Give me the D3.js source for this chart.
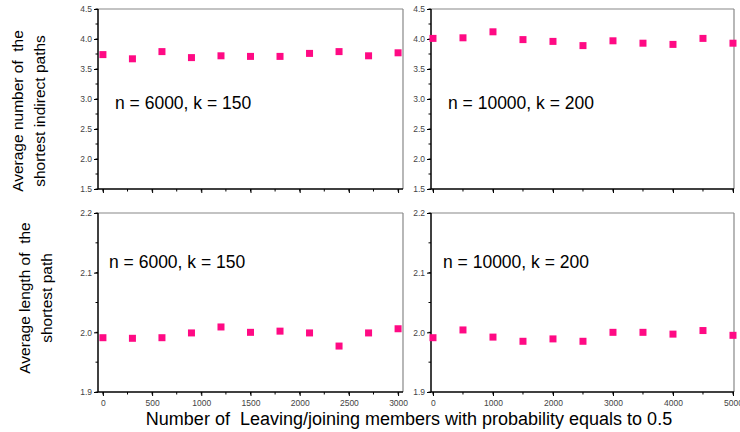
<!DOCTYPE html>
<html>
<head>
<meta charset="utf-8">
<script src="https://cdn.jsdelivr.net/npm/d3@7"></script>
<style>
body { margin: 0; background: white; }
text { white-space: pre; }
</style>
</head>
<body>
<div id="chart"></div>
<script>
// x values (number of leaving/joining members)
var xSmall = [0, 300, 600, 900, 1200, 1500, 1800, 2100, 2400, 2700, 3000];
var xLarge = [0, 500, 1000, 1500, 2000, 2500, 3000, 3500, 4000, 4500, 5000];

// average number of shortest indirect paths
var pathsSmall = [3.74, 3.67, 3.79, 3.69, 3.72, 3.71, 3.71, 3.76, 3.79, 3.72, 3.77];
var pathsLarge = [4.01, 4.02, 4.12, 3.99, 3.96, 3.89, 3.97, 3.93, 3.91, 4.01, 3.93];

// average length of the shortest path
var lengthSmall = [1.991, 1.990, 1.991, 1.999, 2.009, 2.000, 2.002, 1.999, 1.977, 1.999, 2.006];
var lengthLarge = [1.991, 2.004, 1.992, 1.985, 1.989, 1.985, 2.000, 2.000, 1.997, 2.003, 1.995];

var xTicksSmall = [0, 500, 1000, 1500, 2000, 2500, 3000];
var xTicksLarge = [0, 1000, 2000, 3000, 4000, 5000];
var yTicksTop = [1.5, 2.0, 2.5, 3.0, 3.5, 4.0, 4.5];
var yTicksBottom = [1.9, 2.0, 2.1, 2.2];

var width = 740, height = 432;
var pink = "#ff0a84";
var font = "Arial, 'Liberation Sans', sans-serif";

var svg = d3.select("#chart").append("svg")
	.attr("width", width)
	.attr("height", height)
	.style("font-family", font);

var panels = [
	{x0: 98, x1: 403, y0: 9, y1: 189, xd: [-50, 3050], yd: [1.5, 4.5], xs: xSmall, ys: pathsSmall,
	 xt: xTicksSmall, xm: 250, yt: yTicksTop, ym: 0.25, labels: false,
	 note: "n = 6000, k = 150", nx: 115, ny: 109},
	{x0: 431, x1: 734, y0: 9, y1: 189, xd: [-33, 5017], yd: [1.5, 4.5], xs: xLarge, ys: pathsLarge,
	 xt: xTicksLarge, xm: 500, yt: yTicksTop, ym: 0.25, labels: false,
	 note: "n = 10000, k = 200", nx: 448, ny: 109},
	{x0: 98, x1: 403, y0: 213, y1: 392, xd: [-50, 3050], yd: [1.9, 2.2], xs: xSmall, ys: lengthSmall,
	 xt: xTicksSmall, xm: 250, yt: yTicksBottom, ym: 0.05, labels: true,
	 note: "n = 6000, k = 150", nx: 109, ny: 268},
	{x0: 431, x1: 734, y0: 213, y1: 392, xd: [-33, 5017], yd: [1.9, 2.2], xs: xLarge, ys: lengthLarge,
	 xt: xTicksLarge, xm: 500, yt: yTicksBottom, ym: 0.05, labels: true,
	 note: "n = 10000, k = 200", nx: 443, ny: 268}
];

panels.forEach(function(p) {
	var x = d3.scaleLinear().domain(p.xd).range([p.x0, p.x1]);
	var y = d3.scaleLinear().domain(p.yd).range([p.y1, p.y0]);
	var g = svg.append("g");

	// frame: top and right in grey
	g.append("line").attr("x1", p.x0).attr("x2", p.x1).attr("y1", p.y0).attr("y2", p.y0)
		.style("stroke", "#888").style("stroke-width", 1.2);
	g.append("line").attr("x1", p.x1).attr("x2", p.x1).attr("y1", p.y0).attr("y2", p.y1)
		.style("stroke", "#888").style("stroke-width", 1.2);

	// minor ticks
	var xMinor = d3.range(0, p.xd[1], p.xm);
	var yMinor = d3.range(p.yd[0], p.yd[1] + 1e-9, p.ym);

	var xAxis = d3.axisBottom(x).tickValues(p.xt).tickSize(4).tickPadding(4)
		.tickFormat(p.labels ? d3.format("d") : "");
	var ga = g.append("g").attr("transform", "translate(0," + p.y1 + ")").call(xAxis);
	g.append("g").selectAll("line").data(xMinor).enter().append("line")
		.attr("x1", function(d) { return x(d); }).attr("x2", function(d) { return x(d); })
		.attr("y1", p.y1).attr("y2", p.y1 + 2.5)
		.style("stroke", "black").style("stroke-width", 1);

	var yAxis = d3.axisLeft(y).tickValues(p.yt).tickSize(4).tickPadding(2).tickFormat(d3.format(".1f"));
	var gy = g.append("g").attr("transform", "translate(" + p.x0 + ",0)").call(yAxis);
	g.append("g").selectAll("line").data(yMinor).enter().append("line")
		.attr("x1", p.x0 - 2.5).attr("x2", p.x0)
		.attr("y1", function(d) { return y(d); }).attr("y2", function(d) { return y(d); })
		.style("stroke", "black").style("stroke-width", 1);

	[ga, gy].forEach(function(a) {
		a.select(".domain").remove();
		a.selectAll(".tick line").style("stroke", "black");
		a.selectAll("text").style("font-size", "8.5px").style("fill", "#444")
			.style("font-family", font);
	});

	// axis lines
	g.append("line").attr("x1", p.x0).attr("x2", p.x1).attr("y1", p.y1).attr("y2", p.y1)
		.style("stroke", "black").style("stroke-width", 1.5);
	g.append("line").attr("x1", p.x0).attr("x2", p.x0).attr("y1", p.y0).attr("y2", p.y1)
		.style("stroke", "black").style("stroke-width", 1.5);

	// points
	g.selectAll("rect.pt").data(p.xs).enter().append("rect")
		.attr("class", "pt")
		.attr("x", function(d) { return x(d) - 3.5; })
		.attr("y", function(d, i) { return y(p.ys[i]) - 3.5; })
		.attr("width", 7).attr("height", 7)
		.style("fill", pink);

	g.append("text")
		.attr("x", p.nx).attr("y", p.ny)
		.style("font-size", "17.5px")
		.text(p.note);
});

// y axis titles
function yTitle(lines, cx, cy) {
	var t = svg.append("text")
		.attr("transform", "translate(" + cx + "," + cy + ") rotate(-90)")
		.style("text-anchor", "middle")
		.style("font-size", "15.5px");
	lines.forEach(function(s, i) {
		t.append("tspan").attr("x", 0).attr("dy", i === 0 ? 0 : 22).text(s);
	});
}
yTitle(["Average number of  the", "shortest indirect paths"], 23, 111);
yTitle(["Average length of  the", "shortest path"], 30, 298);

svg.append("text")
	.attr("x", 409).attr("y", 425)
	.style("text-anchor", "middle")
	.style("font-size", "18px")
	.text("Number of  Leaving/joining members with probability equals to 0.5");
</script>
</body>
</html>
